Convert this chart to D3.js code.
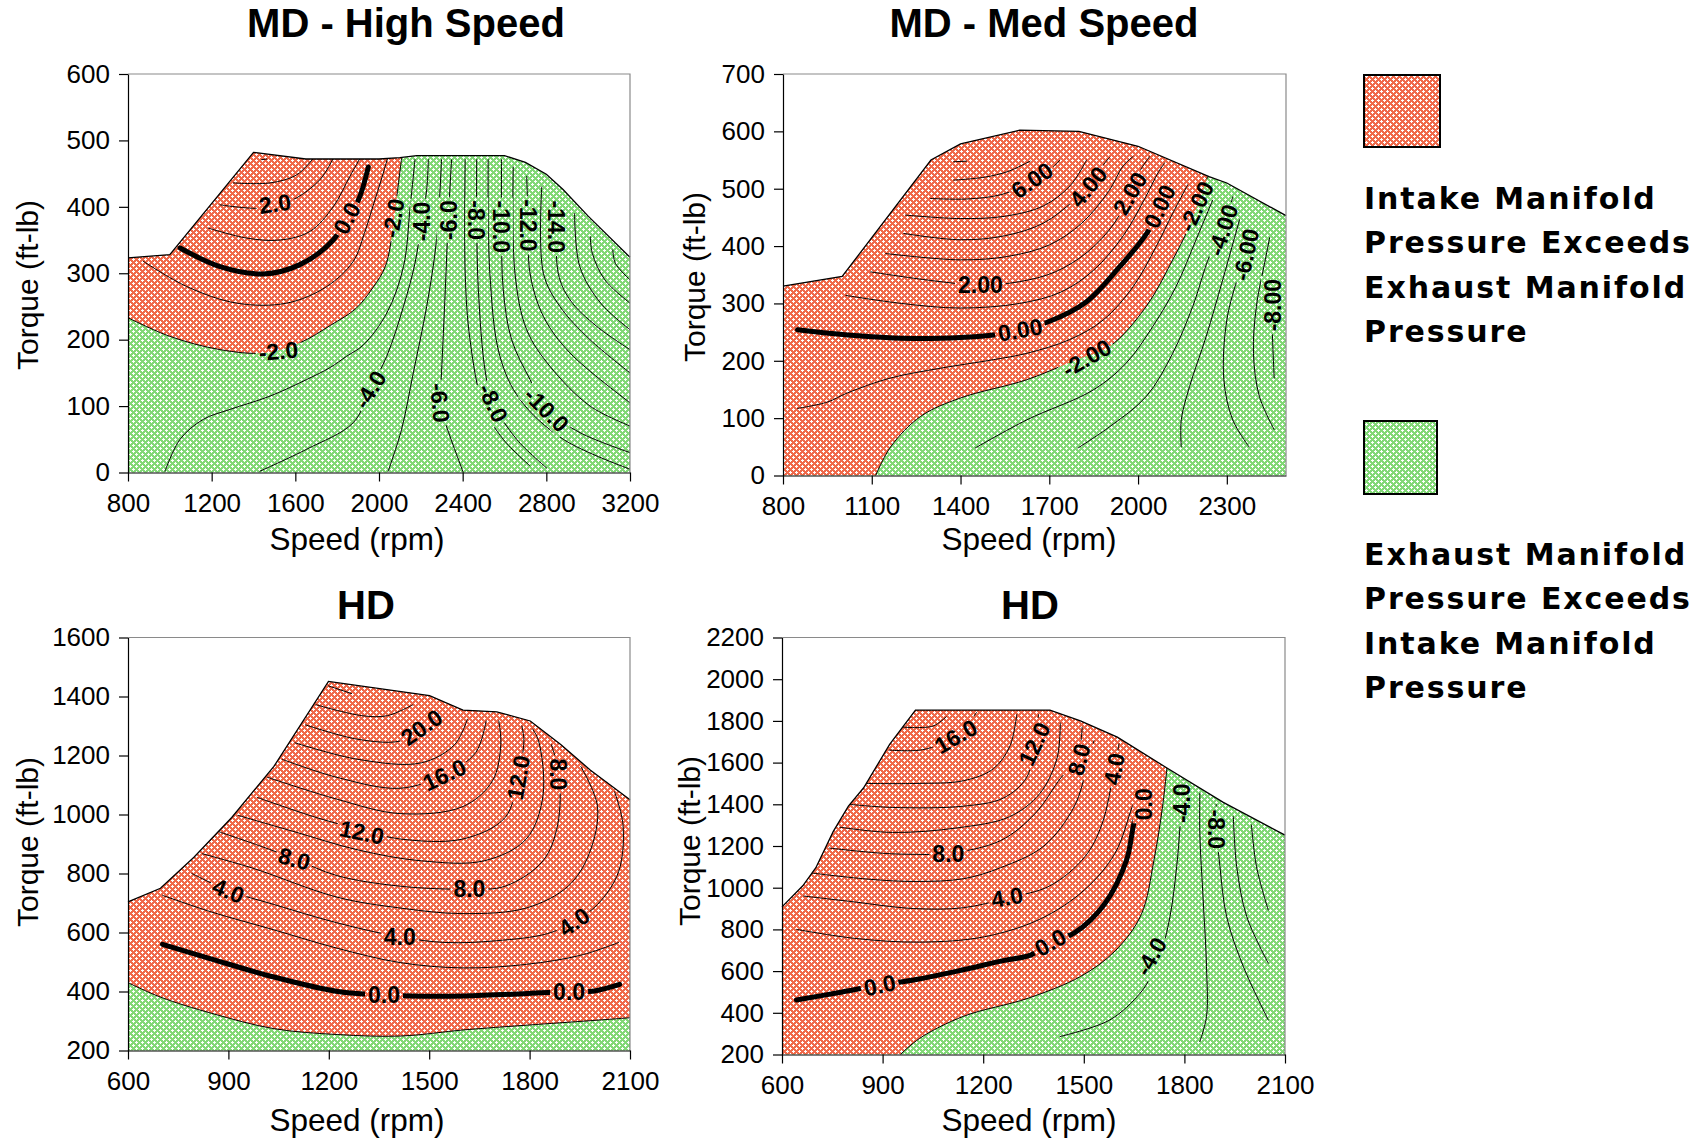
<!DOCTYPE html>
<html>
<head>
<meta charset="utf-8">
<script src="https://cdn.jsdelivr.net/npm/d3@7"></script>
<style>
  body { margin: 0; background: #fff; }
  svg { display: block; }
</style>
</head>
<body>
<svg id="chart"></svg>
<script>
// ---------- data (speed rpm, torque ft-lb) ----------

// MD - High Speed
const hsXTicks = [800, 1200, 1600, 2000, 2400, 2800, 3200];
const hsYTicks = [0, 100, 200, 300, 400, 500, 600];
const hsEnvelope = [[800,323],[1000,328],[1400,482],[1650,472],[2000,472],[2100,474],[2180,477],[2600,477],[2700,467],[2800,449],[2880,426],[3000,386],[3200,324]];
const hsLines = [
  {v: 4, pts: [[1439,471],[1463,472]]},
  {v: 3, pts: [[1304,436],[1479,436],[1606,448],[1686,473]]},
  {v: 2, pts: [[1240,403],[1431,398],[1503,405],[1590,411],[1718,441],[1781,473]]},
  {v: 1, pts: [[1184,368],[1367,353],[1527,350],[1670,363],[1781,400],[1861,446],[1909,473]]},
  {v: 0, pts: [[1049,338],[1240,310],[1447,299],[1622,313],[1781,350],[1845,383],[1901,410],[1949,460]]},
  {v: -1, pts: [[873,318],[1081,280],[1320,255],[1559,255],[1750,280],[1877,318],[1930,360],[1975,405],[2010,440],[2040,472]]},
  {v: -2, pts: [[800,233],[1000,205],[1240,185],[1450,180],[1620,195],[1770,222],[1890,247],[1970,278],[2030,310],[2068,370],[2085,415],[2108,473]]},
  {v: -3, pts: [[977,2],[1049,50],[1160,80],[1288,95],[1479,115],[1654,140],[1766,158],[1845,175],[1925,192],[2037,240],[2117,310],[2149,400],[2172,471]]},
  {v: -4, pts: [[1431,2],[1654,35],[1877,75],[1957,125],[2037,175],[2117,250],[2172,315],[2204,378],[2228,426],[2236,471]]},
  {v: -5, pts: [[2044,2],[2108,65],[2164,150],[2228,250],[2275,350],[2299,471]]},
  {v: -6, pts: [[2403,0],[2317,75],[2292,105],[2299,150],[2317,275],[2331,380],[2347,471]]},
  {v: -7, pts: [[2722,10],[2594,50],[2499,100],[2435,200],[2412,300],[2412,471]]},
  {v: -8, pts: [[2801,7],[2658,50],[2546,105],[2509,150],[2475,275],[2467,380],[2467,471]]},
  {v: -9, pts: [[3200,5],[2881,50],[2674,110],[2578,175],[2530,300],[2522,471]]},
  {v: -10, pts: [[3200,30],[2961,60],[2801,95],[2722,140],[2634,200],[2594,275],[2586,370],[2586,471]]},
  {v: -11, pts: [[3200,70],[3009,100],[2817,160],[2706,215],[2650,300],[2642,460]]},
  {v: -12, pts: [[3200,105],[2913,180],[2786,235],[2722,300],[2714,372],[2706,446]]},
  {v: -13, pts: [[3200,150],[3009,200],[2865,250],[2786,300],[2778,430]]},
  {v: -14, pts: [[3200,185],[3041,220],[2913,260],[2857,300],[2849,413]]},
  {v: -15, pts: [[3200,215],[3060,255],[2960,310],[2935,390]]},
  {v: -16, pts: [[3200,255],[3080,290],[3020,330],[3010,355]]},
  {v: -17, pts: [[3200,290],[3130,315],[3118,335]]}
];
const hsLabels = [
  ["2.0",1503,405,-8], ["0.0",1845,383,-62], ["-2.0",1519,183,-5], ["-2.0",2068,383,-80],
  ["-4.0",2204,378,-90], ["-6.0",2331,380,-90], ["-8.0",2467,380,90], ["-10.0",2586,370,90],
  ["-12.0",2714,372,90], ["-14.0",2849,370,90], ["-4.0",1957,125,-58], ["-6.0",2292,105,85],
  ["-8.0",2546,105,65], ["-10.0",2801,95,45]
];

// MD - Med Speed
const msXTicks = [800, 1100, 1400, 1700, 2000, 2300];
const msYTicks = [0, 100, 200, 300, 400, 500, 600, 700];
const msEnvelope = [[800,330],[1000,347],[1300,550],[1400,578],[1600,602],[1800,600],[2000,574],[2240,521],[2300,510],[2500,453]];
const msLines = [
  {v: 8, pts: [[1377,547],[1420,548]]},
  {v: 7, pts: [[1377,515],[1480,520],[1560,530],[1635,548]]},
  {v: 6, pts: [[1298,483],[1420,482],[1540,490],[1641,512],[1700,532],[1736,550]]},
  {v: 5, pts: [[1214,454],[1399,448],[1550,452],[1680,470],[1770,505],[1826,550]]},
  {v: 4, pts: [[1208,422],[1399,411],[1550,418],[1680,440],[1780,478],[1831,504],[1880,540],[1904,555]]},
  {v: 3, pts: [[1147,387],[1399,376],[1560,382],[1700,402],[1810,440],[1900,495],[1950,540],[1983,556]]},
  {v: 2, pts: [[1096,355],[1300,340],[1467,332],[1600,338],[1720,355],[1830,390],[1920,440],[1972,492],[2005,530],[2039,556]]},
  {v: 1, pts: [[1012,314],[1200,300],[1399,292],[1600,300],[1740,320],[1850,358],[1950,418],[2020,480],[2070,530],[2090,545]]},
  {v: 0, pts: [[849,254],[1018,245],[1242,239],[1512,245],[1601,254],[1697,268],[1826,303],[1938,364],[2033,425],[2072,469],[2106,506]]},
  {v: -1, pts: [[849,117],[950,128],[1018,144],[1164,170],[1332,187],[1512,202],[1624,213],[1769,237],[1882,271],[1983,329],[2061,399],[2117,457],[2168,507]]},
  {v: -2, pts: [[1113,0],[1164,50],[1265,103],[1399,135],[1624,167],[1792,202],[1904,225],[2028,295],[2117,376],[2173,434],[2235,521]]},
  {v: -3, pts: [[1450,48],[1624,97],[1848,149],[1960,196],[2050,260],[2128,329],[2196,411],[2252,480]]},
  {v: -4, pts: [[1797,48],[1904,85],[2028,138],[2117,213],[2185,295],[2241,382],[2286,428],[2320,486]]},
  {v: -5, pts: [[2146,50],[2146,97],[2174,155],[2230,242],[2286,341],[2343,446]]},
  {v: -6, pts: [[2375,50],[2320,97],[2290,167],[2300,271],[2340,350],[2364,385],[2405,425]]},
  {v: -7, pts: [[2460,80],[2410,138],[2390,213],[2400,295],[2430,376],[2445,415]]},
  {v: -8, pts: [[2460,170],[2454,248],[2452,297],[2458,340]]}
];
const msLabels = [
  ["6.00",1641,515,-35], ["4.00",1831,504,-50], ["2.00",1972,492,-60], ["0.00",2072,469,-65],
  ["-2.00",2196,469,-65], ["-4.00",2286,428,-72], ["-6.00",2364,385,-78], ["-8.00",2454,297,-90],
  ["2.00",1467,332,0], ["0.00",1601,254,-10], ["-2.00",1826,205,-30]
];

// HD (left)
const hdaXTicks = [600, 900, 1200, 1500, 1800, 2100];
const hdaYTicks = [200, 400, 600, 800, 1000, 1200, 1400, 1600];
const hdaEnvelope = [[600,704],[697,750],[797,855],[910,990],[1036,1163],[1199,1451],[1501,1403],[1601,1354],[1702,1348],[1802,1317],[1893,1237],[1981,1151],[2100,1050]];
const hdaLines = [
  {v: 24, pts: [[1199,1436],[1268,1410]]},
  {v: 22, pts: [[1162,1372],[1299,1335],[1375,1335],[1451,1372]]},
  {v: 20, pts: [[1130,1304],[1287,1255],[1413,1249],[1476,1290],[1526,1341]]},
  {v: 18, pts: [[1099,1243],[1287,1187],[1476,1175],[1576,1237],[1614,1323]]},
  {v: 16, pts: [[1061,1187],[1224,1126],[1413,1089],[1545,1135],[1639,1210],[1670,1317]]},
  {v: 14, pts: [[1017,1126],[1224,1052],[1413,1003],[1601,1027],[1689,1114],[1714,1237],[1708,1317]]},
  {v: 12, pts: [[986,1058],[1162,990],[1300,947],[1413,917],[1601,917],[1727,990],[1765,1125],[1783,1249],[1777,1300]]},
  {v: 10, pts: [[929,997],[1099,941],[1287,880],[1476,843],[1664,843],[1790,917],[1840,1064],[1827,1249],[1809,1290]]},
  {v: 8, pts: [[873,941],[998,892],[1097,850],[1224,793],[1413,757],[1620,747],[1727,757],[1840,843],[1884,966],[1888,1136],[1865,1237]]},
  {v: 6, pts: [[822,867],[973,818],[1224,720],[1413,683],[1601,664],[1790,683],[1915,757],[1978,867],[2003,1027],[1953,1163]]},
  {v: 4, pts: [[791,800],[900,742],[1036,695],[1224,633],[1412,585],[1550,566],[1700,572],[1853,596],[1932,636],[2003,695],[2066,806],[2079,966],[2054,1077]]},
  {v: 2, pts: [[703,726],[848,670],[1036,609],[1224,547],[1413,498],[1601,480],[1790,492],[1953,523],[2066,566]]},
  {v: 0, pts: [[703,560],[850,510],[1036,449],[1227,400],[1365,388],[1441,385],[1604,385],[1793,393],[1918,400],[1994,402],[2069,424]]},
  {v: -2, pts: [[600,430],[697,381],[850,326],[1036,274],[1227,254],[1416,249],[1604,270],[1793,286],[1981,301],[2100,311]]}
];
const hdaLabels = [
  ["20.0",1477,1296,-35], ["16.0",1545,1135,-25], ["12.0",1299,940,12], ["8.0",1097,850,15],
  ["4.0",900,742,22], ["8.0",1620,747,0], ["4.0",1412,585,0], ["4.0",1932,636,-35],
  ["12.0",1766,1125,-80], ["8.0",1886,1136,90], ["0.0",1365,388,0], ["0.0",1918,400,0]
];

// HD (right)
const hdbXTicks = [600, 900, 1200, 1500, 1800, 2100];
const hdbYTicks = [200, 400, 600, 800, 1000, 1200, 1400, 1600, 1800, 2000, 2200];
const hdbEnvelope = [[600,908],[662,1009],[701,1096],[753,1270],[798,1391],[843,1478],[921,1687],[998,1852],[1399,1852],[1490,1800],[1600,1722],[1748,1574],[1916,1409],[2100,1252]];
const hdbLines = [
  {v: 18, pts: [[960,1770],[1050,1775],[1090,1820]]},
  {v: 16, pts: [[920,1660],[1020,1662],[1118,1726],[1180,1840]]},
  {v: 14, pts: [[850,1500],[1000,1500],[1141,1513],[1230,1570],[1280,1680],[1300,1830]]},
  {v: 12, pts: [[800,1400],[929,1385],[1141,1391],[1260,1430],[1330,1530],[1352,1690],[1365,1830]]},
  {v: 10, pts: [[773,1290],[929,1265],[1123,1287],[1278,1340],[1368,1450],[1420,1620],[1430,1790]]},
  {v: 8, pts: [[741,1190],[900,1165],[1000,1160],[1096,1164],[1252,1226],[1355,1356],[1433,1530],[1480,1615],[1495,1770]]},
  {v: 6, pts: [[690,1070],[864,1040],[1000,1030],[1141,1043],[1252,1096],[1381,1200],[1472,1391],[1510,1583],[1530,1704]]},
  {v: 4, pts: [[665,960],[799,935],[993,900],[1141,904],[1271,950],[1399,1009],[1503,1148],[1554,1304],[1590,1560],[1605,1690]]},
  {v: 2, pts: [[643,800],[817,757],[1011,739],[1205,765],[1373,852],[1503,991],[1593,1165],[1645,1391],[1671,1496]]},
  {v: 0, pts: [[643,461],[780,500],[891,533],[1000,560],[1123,600],[1260,650],[1343,678],[1400,736],[1472,783],[1562,922],[1627,1130],[1655,1339],[1680,1400],[1690,1480]]},
  {v: -2, pts: [[953,200],[1011,278],[1141,383],[1334,470],[1490,574],[1593,696],[1671,870],[1709,1130],[1735,1391],[1748,1574]]},
  {v: -4, pts: [[1429,286],[1578,366],[1668,494],[1700,574],[1727,669],[1757,861],[1777,1101],[1787,1293],[1792,1405],[1797,1517]]},
  {v: -6, pts: [[1846,262],[1866,382],[1866,621],[1856,941],[1846,1261],[1846,1453]]},
  {v: -8, pts: [[2050,366],[1976,621],[1926,861],[1906,1101],[1896,1285],[1895,1400]]},
  {v: -10, pts: [[2050,638],[1986,861],[1956,1101],[1946,1341]]},
  {v: -12, pts: [[2050,893],[2015,1101],[2000,1301]]}
];
const hdbLabels = [
  ["16.0",1118,1726,-30], ["12.0",1352,1690,-65], ["8.0",1485,1615,-75], ["4.0",1590,1570,-80],
  ["0.0",1680,1400,-90], ["8.0",1096,1164,0], ["4.0",1271,955,-10], ["0.0",1400,738,-30],
  ["0.0",891,533,-12], ["-4.0",1792,1405,-90], ["-8.0",1896,1280,90], ["-4.0",1700,670,-60]
];

const legendTexts = [
  ["Intake Manifold", "Pressure Exceeds", "Exhaust Manifold", "Pressure"],
  ["Exhaust Manifold", "Pressure Exceeds", "Intake Manifold", "Pressure"]
];

// ---------- drawing ----------
const W = 1703, H = 1139;
const svg = d3.select("#chart").attr("width", W).attr("height", H);
const defs = svg.append("defs");
const AXFONT = "'Liberation Sans', Arial, sans-serif";
const LABEL_SIZE = 23;

function makePattern(id, color) {
  const p = defs.append("pattern")
    .attr("id", id)
    .attr("patternUnits", "userSpaceOnUse")
    .attr("width", 6).attr("height", 6);
  p.append("rect").attr("width", 6).attr("height", 6).attr("fill", color);
  // white crosses on a diagonal lattice
  [[1,0,1,3],[0,1,3,1],[4,3,1,3],[3,4,3,1]].forEach(r => {
    p.append("rect").attr("x", r[0]).attr("y", r[1])
      .attr("width", r[2]).attr("height", r[3]).attr("fill", "#fff");
  });
}
makePattern("pRed", "#f06a4b");
makePattern("pGreen", "#82d877");

const panels = [
  {key: "hs", title: "MD - High Speed", xDomain: [800, 3200], yDomain: [0, 600],
   xTicks: hsXTicks, yTicks: hsYTicks, envelope: hsEnvelope, lines: hsLines, labels: hsLabels,
   box: {l: 128, r: 630, t: 74, b: 472.5}, titleXY: [406, 37], xTitleXY: [357, 550], yTitleXY: [38, 285]},
  {key: "ms", title: "MD - Med Speed", xDomain: [800, 2500], yDomain: [0, 700],
   xTicks: msXTicks, yTicks: msYTicks, envelope: msEnvelope, lines: msLines, labels: msLabels,
   box: {l: 783, r: 1286, t: 74, b: 475.5}, titleXY: [1044, 37], xTitleXY: [1029, 550], yTitleXY: [705, 277]},
  {key: "hda", title: "HD", xDomain: [600, 2100], yDomain: [200, 1600],
   xTicks: hdaXTicks, yTicks: hdaYTicks, envelope: hdaEnvelope, lines: hdaLines, labels: hdaLabels,
   box: {l: 128, r: 630, t: 637.5, b: 1050.5}, titleXY: [366, 619], xTitleXY: [357, 1131], yTitleXY: [38, 842]},
  {key: "hdb", title: "HD", xDomain: [600, 2100], yDomain: [200, 2200],
   xTicks: hdbXTicks, yTicks: hdbYTicks, envelope: hdbEnvelope, lines: hdbLines, labels: hdbLabels,
   box: {l: 782, r: 1285, t: 637.5, b: 1054.5}, titleXY: [1030, 619], xTitleXY: [1029, 1131], yTitleXY: [700, 841]}
];

function drawPanel(cfg) {
  const {l, r, t, b} = cfg.box;
  const [x0, x1] = cfg.xDomain, [y0, y1] = cfg.yDomain;
  const x = d3.scaleLinear().domain(cfg.xDomain).range([l, r]);
  const y = d3.scaleLinear().domain(cfg.yDomain).range([b, t]);
  const lin = d3.line().x(d => x(d[0])).y(d => y(d[1]));
  const smooth = d3.line().x(d => x(d[0])).y(d => y(d[1])).curve(d3.curveCatmullRom.alpha(0.5));

  const envPoly = cfg.envelope.concat([[x1, y0], [x0, y0]]);
  defs.append("clipPath").attr("id", "clip-" + cfg.key)
    .append("path").attr("d", lin(envPoly) + "Z");

  const mask = defs.append("mask").attr("id", "mask-" + cfg.key)
    .attr("maskUnits", "userSpaceOnUse")
    .attr("x", 0).attr("y", 0).attr("width", W).attr("height", H);
  mask.append("rect").attr("width", W).attr("height", H).attr("fill", "#fff");

  const g = svg.append("g");

  // operating area, green first
  g.append("path").attr("d", lin(envPoly) + "Z").attr("fill", "url(#pGreen)");

  // red side of the -2 boundary
  const bnd = cfg.lines.find(d => d.v === -2).pts;
  const last = bnd[bnd.length - 1];
  const closing = [[last[0], y1], [x0, y1]];
  if (bnd[0][0] > x0) closing.push([x0, y0]);
  const redPath = smooth(bnd) + closing.map(p => "L" + x(p[0]) + "," + y(p[1])).join("") + "Z";
  g.append("path").attr("d", redPath).attr("fill", "url(#pRed)")
    .attr("clip-path", "url(#clip-" + cfg.key + ")");

  // contour lines
  g.append("g")
    .attr("clip-path", "url(#clip-" + cfg.key + ")")
    .append("g")
    .attr("mask", "url(#mask-" + cfg.key + ")")
    .selectAll("path")
    .data(cfg.lines)
    .join("path")
    .attr("d", d => smooth(d.pts))
    .attr("fill", "none")
    .attr("stroke", "#000")
    .attr("stroke-width", d => d.v === 0 ? 5 : 1)
    .attr("stroke-linecap", "round");

  // envelope outline
  g.append("path").attr("d", lin(cfg.envelope))
    .attr("fill", "none").attr("stroke", "#000").attr("stroke-width", 1.3);

  // frame top/right
  g.append("path").attr("d", `M${l},${t}H${r}V${b}`)
    .attr("fill", "none").attr("stroke", "#8a8a8a").attr("stroke-width", 1.2);

  // axes
  const ax = g.append("g").attr("transform", `translate(0,${b})`)
    .call(d3.axisBottom(x).tickValues(cfg.xTicks).tickSize(9).tickPadding(12).tickSizeOuter(0).tickFormat(d3.format("d")));
  const ay = g.append("g").attr("transform", `translate(${l},0)`)
    .call(d3.axisLeft(y).tickValues(cfg.yTicks).tickSize(9).tickPadding(9).tickSizeOuter(0).tickFormat(d3.format("d")));
  [ax, ay].forEach(a => {
    a.attr("font-family", AXFONT).attr("font-size", 26);
    a.selectAll("text").attr("fill", "#000");
    a.selectAll("line, path").attr("stroke", "#000").attr("stroke-width", 1.2);
  });

  // contour labels, with gaps cut in the lines below them
  const lab = g.append("g").attr("font-family", AXFONT).attr("font-weight", "bold").attr("font-size", LABEL_SIZE);
  cfg.labels.forEach(([txt, vx, vy, ang]) => {
    const tr = `translate(${x(vx)},${y(vy)}) rotate(${ang})`;
    const tx = lab.append("text").attr("transform", tr)
      .attr("text-anchor", "middle").attr("dy", "0.36em").text(txt);
    const w = tx.node().getComputedTextLength();
    mask.append("rect").attr("transform", tr)
      .attr("x", -w / 2 - 3).attr("y", -LABEL_SIZE / 2).attr("width", w + 6).attr("height", LABEL_SIZE)
      .attr("fill", "#000");
  });

  // titles
  g.append("text").attr("x", cfg.titleXY[0]).attr("y", cfg.titleXY[1])
    .attr("text-anchor", "middle").attr("font-family", AXFONT)
    .attr("font-weight", "bold").attr("font-size", 40).text(cfg.title);
  g.append("text").attr("x", cfg.xTitleXY[0]).attr("y", cfg.xTitleXY[1])
    .attr("text-anchor", "middle").attr("font-family", AXFONT)
    .attr("font-size", 31.5).text("Speed (rpm)");
  g.append("text")
    .attr("transform", `translate(${cfg.yTitleXY[0]},${cfg.yTitleXY[1]}) rotate(-90)`)
    .attr("text-anchor", "middle").attr("font-family", AXFONT)
    .attr("font-size", 30).text("Torque (ft-lb)");
}

panels.forEach(drawPanel);

// legend
const legend = svg.append("g");
const legendBoxes = [
  {fill: "url(#pRed)", x: 1364, y: 75, w: 76, h: 72, textY: 209},
  {fill: "url(#pGreen)", x: 1364, y: 421, w: 73, h: 73, textY: 565}
];
legendBoxes.forEach((bx, i) => {
  legend.append("rect").attr("x", bx.x).attr("y", bx.y).attr("width", bx.w).attr("height", bx.h)
    .attr("fill", bx.fill).attr("stroke", "#000").attr("stroke-width", 2);
  legend.append("g").selectAll("text")
    .data(legendTexts[i])
    .join("text")
    .attr("x", bx.x)
    .attr("y", (d, j) => bx.textY + j * 44.3)
    .attr("font-family", "'DejaVu Sans', Verdana, sans-serif")
    .attr("font-weight", "bold")
    .attr("font-size", 30)
    .attr("letter-spacing", 1.9)
    .text(d => d);
});
</script>
</body>
</html>
